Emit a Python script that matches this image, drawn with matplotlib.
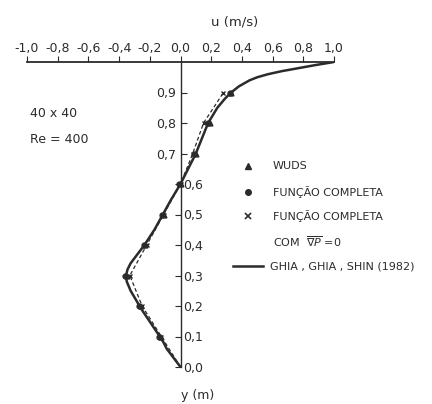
import numpy as np
import matplotlib.pyplot as plt

# perfil de u na linha vertical central (Re = 400)
ghia_y = [0.0, 0.02, 0.04, 0.06, 0.08, 0.10, 0.13, 0.16, 0.19, 0.22, 0.25, 0.28,
          0.30, 0.32, 0.34, 0.37, 0.40, 0.45, 0.50, 0.55, 0.60, 0.65, 0.70, 0.75,
          0.80, 0.85, 0.88, 0.90, 0.92, 0.94, 0.95, 0.96, 0.97, 0.98, 0.99, 1.0]
ghia_u = [0.0, -0.03, -0.06, -0.09, -0.11, -0.135, -0.175, -0.215, -0.255, -0.29, -0.325, -0.35,
          -0.355, -0.345, -0.325, -0.28, -0.235, -0.17, -0.115, -0.06, 0.0, 0.05, 0.10, 0.14,
          0.18, 0.24, 0.29, 0.33, 0.38, 0.45, 0.50, 0.57, 0.66, 0.77, 0.88, 1.0]

pts_y = [0.1, 0.2, 0.3, 0.4, 0.5, 0.6, 0.7, 0.8, 0.9]
wuds_u = [-0.13, -0.26, -0.35, -0.23, -0.11, 0.0, 0.10, 0.19, 0.33]
completa_u = [-0.14, -0.27, -0.36, -0.24, -0.12, -0.01, 0.09, 0.18, 0.32]
nablap_u = [-0.125, -0.25, -0.33, -0.22, -0.11, 0.0, 0.08, 0.15, 0.28]

xticks = [-1.0, -0.8, -0.6, -0.4, -0.2, 0.0, 0.2, 0.4, 0.6, 0.8, 1.0]
yticks_baixo = [0.0, 0.1, 0.2, 0.3, 0.4, 0.5, 0.6]
yticks_cima = [0.7, 0.8, 0.9]

cor = '#2b2b2b'
fig = plt.figure(figsize=(4.32, 4.04), dpi=100)
ax = fig.add_axes([27 / 432, 1 - 367 / 404, 307 / 432, 305 / 404])
ax.set_xlim(-1.0, 1.0)
ax.set_ylim(0.0, 1.0)

ax.plot(ghia_u, ghia_y, color=cor, lw=1.8, zorder=3)
ax.plot([0.0] + nablap_u, [0.0] + pts_y, color=cor, lw=0.9,
        ls=(0, (3, 2)), zorder=2)
ax.plot(wuds_u, pts_y, ls='none', marker='^', ms=3.5, color=cor, zorder=4)
ax.plot(completa_u, pts_y, ls='none', marker='o', ms=3.5, color=cor, zorder=4)
ax.plot(nablap_u, pts_y, ls='none', marker='x', ms=3, mew=1.0, color=cor, zorder=4)

# eixos: u em cima, y na vertical em u = 0
for s in ['bottom', 'right', 'left']:
    ax.spines[s].set_visible(False)
ax.spines['top'].set_linewidth(1.3)
ax.spines['top'].set_color(cor)
ax.xaxis.set_ticks_position('top')
ax.set_xticks(xticks)
ax.set_xticklabels([f'{v:.1f}'.replace('.', ',') for v in xticks])
ax.tick_params(axis='x', direction='out', length=4, color=cor, labelcolor=cor,
               labelsize=9, pad=1)

ax.spines['left'].set_visible(True)
ax.spines['left'].set_position(('data', 0))
ax.spines['left'].set_linewidth(1.0)
ax.spines['left'].set_color(cor)
ax.set_yticks(yticks_cima)
ax.set_yticklabels([f'{v:.1f}'.replace('.', ',') for v in yticks_cima])
ax.tick_params(axis='y', which='both', direction='in', length=4, color=cor,
               labelcolor=cor, labelsize=9, pad=3)

ax2 = ax.twinx()
ax2.set_ylim(0.0, 1.0)
for s in ['bottom', 'top', 'left']:
    ax2.spines[s].set_visible(False)
ax2.spines['right'].set_position(('data', 0))
ax2.spines['right'].set_visible(False)
ax2.set_yticks(yticks_baixo)
ax2.set_yticklabels([f'{v:.1f}'.replace('.', ',') for v in yticks_baixo])
ax2.tick_params(axis='y', direction='in', length=4, color=cor, labelcolor=cor,
                labelsize=9, pad=2)

ax.text(0.35, 1.13, 'u (m/s)', ha='center', va='center', fontsize=9.5,
        color=cor, clip_on=False)
ax.text(0.11, -0.095, 'y (m)', ha='center', va='center', fontsize=9, color=cor,
        clip_on=False)
ax.text(-0.98, 0.83, '40 x 40', fontsize=9, color=cor, va='center')
ax.text(-0.98, 0.745, 'Re = 400', fontsize=9, color=cor, va='center')

# legenda desenhada à mão
leg_x = 0.44
ax.plot([leg_x], [0.66], marker='^', ms=4, color=cor, clip_on=False)
ax.plot([leg_x], [0.575], marker='o', ms=4, color=cor, clip_on=False)
ax.plot([leg_x], [0.495], marker='x', ms=4, mew=1.2, color=cor, clip_on=False)
ax.plot([0.34, 0.54], [0.33, 0.33], color=cor, lw=1.8, clip_on=False)
txt = dict(fontsize=8, color=cor, va='center', clip_on=False)
ax.text(0.6, 0.66, 'WUDS', **txt)
ax.text(0.6, 0.575, 'FUNÇÃO COMPLETA', **txt)
ax.text(0.6, 0.495, 'FUNÇÃO COMPLETA', **txt)
ax.text(0.6, 0.41, r'COM  $\overline{\nabla P}$ =0', **txt)
ax.text(0.58, 0.33, 'GHIA , GHIA , SHIN (1982)', **txt)

fig.savefig('out.png', dpi=100)
